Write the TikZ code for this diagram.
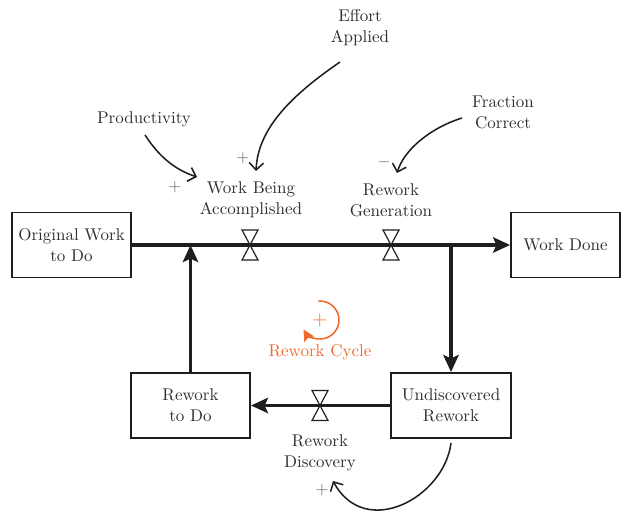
\documentclass[tikz,border=0pt]{standalone}
\usetikzlibrary{arrows.meta,calc}
\definecolor{ink}{HTML}{1E1E1E}
\definecolor{txt}{HTML}{2E2E2E}
\definecolor{sign}{HTML}{6A6A6A}
\definecolor{cyclecol}{HTML}{EE6A2C}
\begin{document}
\begin{tikzpicture}[x=0.588pt,y=-0.588pt,
  font=\fontsize{10}{12.4}\selectfont,
  stock/.style={draw=ink,line width=1.15pt,minimum width=70pt,minimum height=38.2pt,
    align=center,text=txt,inner sep=1pt},
  lbl/.style={align=center,text=txt,inner sep=0pt},
  sgn/.style={text=sign,inner sep=0pt},
  flow/.style={draw=ink,line width=2.3pt,-{Stealth[length=10pt,width=9pt,inset=2pt]}},
  link/.style={draw=ink,line width=0.9pt,-{Straight Barb[length=4.2pt,width=8.5pt]}},
  valvestyle/.style={draw=ink,line width=0.7pt,fill=white}]
\useasboundingbox (0,0) rectangle (621,512);

% stocks
\node[stock] (owd) at (71.5,245) {Original Work\\to Do};
\node[stock,minimum width=64pt] (done) at (565.5,245) {Work Done};
\node[stock] (rtd) at (190.5,405.5) {Rework\\to Do};
\node[stock,minimum width=70.6pt] (ur) at (451,405.5) {Undiscovered\\Rework};

% valve positions and junctions
\coordinate (v1) at (250,245);
\coordinate (v2) at (391,245);
\coordinate (v3) at (320,405.5);
\coordinate (j1) at (190.5,245);
\coordinate (j2) at (451,245);

% main pipe and branches
\draw[flow] (owd.east) -- (done.west);
\draw[flow] (rtd.north) -- (j1);
\draw[flow] (j2) -- (ur.north);
\draw[flow] (ur.west) -- (rtd.east);

% valves
\foreach \v in {v1,v2,v3}{
  \draw[valvestyle] ($(\v)+(-8,-15)$) -- ($(\v)+(8,-15)$) -- ($(\v)+(-8,15)$) -- ($(\v)+(8,15)$) -- cycle;
}

% labels
\node[lbl] (wba) at (251,200) {Work Being\\Accomplished};
\node[lbl] (rg) at (391,200) {Rework\\Generation};
\node[lbl] (rd) at (320,452.5) {Rework\\Discovery};
\node[lbl] (ea) at (360,28) {Effort\\Applied};
\node[lbl] (prod) at (144,119.5) {Productivity};
\node[lbl] (fc) at (503,112.5) {Fraction\\Correct};

% causal links
\coordinate (eaS) at (340,62);
\coordinate (eaT) at (256,171);
\draw[link] (eaS) .. controls (292,95) and (258,128) .. (eaT);
\coordinate (prS) at (145,135);
\coordinate (prT) at (197,177);
\draw[link] (prS) .. controls (160,158) and (176,170) .. (prT);
\coordinate (fcS) at (462,118);
\coordinate (fcT) at (397,173);
\draw[link] (fcS) .. controls (430,128) and (404,150) .. (fcT);
\coordinate (urS) at (451,443);
\coordinate (urT) at (333,481);
\draw[link] (urS) .. controls (444,498) and (365,540) .. (urT);

% polarities
\node[sgn] (p1) at (243,158) {+};
\node[sgn] (p2) at (175,187) {+};
\node[sgn] (p3) at (384,162) {$-$};
\node[sgn] (p4) at (322,490) {+};

% loop marker
\coordinate (lc) at (320,320);
\draw[draw=cyclecol,line width=0.9pt,-{Stealth[length=6.5pt,width=6.5pt,inset=1pt]}]
  ($(lc)+(-95:19)$) arc[start angle=-95,end angle=150,radius=19];
\node[text=cyclecol,inner sep=0pt,font=\fontsize{12}{14}\selectfont] (lp) at (lc) {+};
\node[lbl,text=cyclecol] (lt) at (320,352.5) {Rework Cycle};
\end{tikzpicture}
\end{document}
